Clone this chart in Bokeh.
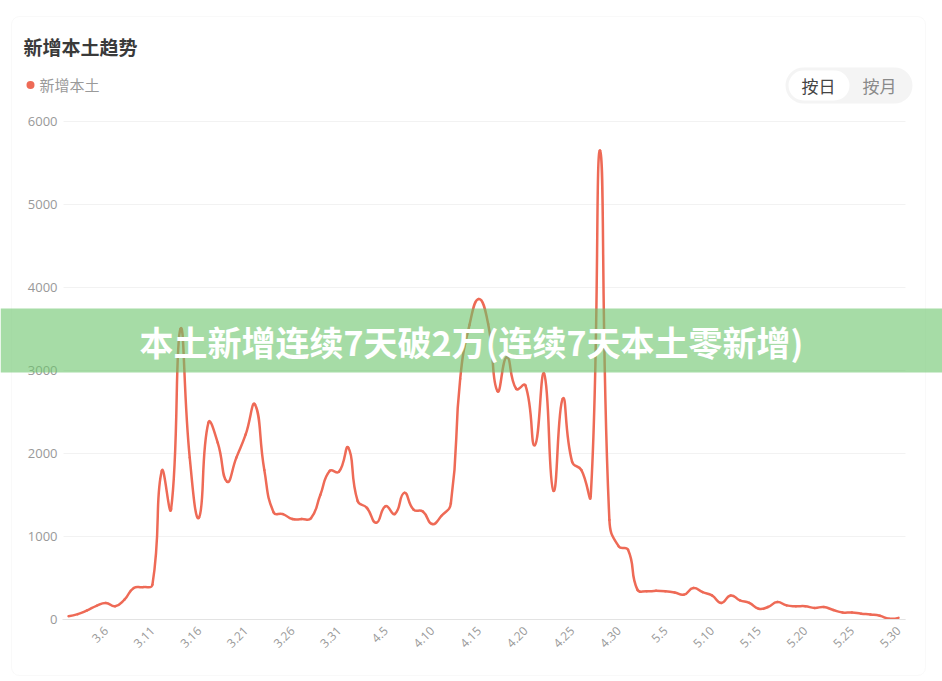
import math
from bokeh.plotting import figure
from bokeh.models import BoxAnnotation, Label, FixedTicker, ColumnDataSource
from bokeh.embed import file_html
from bokeh.resources import INLINE

W, H = 942, 681

# ---------------- data ----------------
months = [3, 4, 5]
first_day = {3: 2, 4: 1, 5: 1}
last_day = {3: 31, 4: 30, 5: 30}

march_values = [40, 65, 110, 165, 200, 160, 240, 380, 390, 420,
                1790, 1330, 3500, 1950, 1230, 2370, 2130, 1660, 1950, 2230,
                2590, 1800, 1290, 1270, 1210, 1210, 1220, 1500, 1790, 1780]
april_values = [2070, 1430, 1345, 1165, 1365, 1272, 1526, 1325, 1300, 1150,
                1250, 1400, 2900, 3550, 3860, 3560, 2750, 3160, 2780, 2820,
                2100, 2960, 1550, 2660, 1900, 1800, 1490, 5650, 1200, 880]
may_values = [840, 360, 340, 345, 340, 325, 300, 380, 330, 290,
              200, 290, 230, 200, 130, 150, 210, 170, 160, 160,
              140, 150, 115, 85, 85, 70, 60, 45, 10, 20]

tick_labels = ["3.6", "3.11", "3.16", "3.21", "3.26", "3.31", "4.5", "4.10", "4.15",
               "4.20", "4.25", "4.30", "5.5", "5.10", "5.15", "5.20", "5.25", "5.30"]
y_ticks = [0, 1000, 2000, 3000, 4000, 5000, 6000]

values = march_values + april_values + may_values
dates = [f"{m}.{d}" for m in months for d in range(first_day[m], last_day[m] + 1)]
xs = list(range(len(values)))
tick_pos = [dates.index(t) for t in tick_labels]

# ---------------- layout constants (canvas pixels) ----------------
X0_PX, XN_PX = 68, 898          # first / last data point
Y0_PX, Y6000_PX = 619, 121      # value 0 / value 6000
GRID_L, GRID_R = 63, 905
KX = (XN_PX - X0_PX) / (len(values) - 1)
KY = (Y0_PX - Y6000_PX) / 6000.0


def xd(pxl):  # canvas px -> data x
    return (pxl - X0_PX) / KX


x_range = (xd(0), xd(W))
y_range = (-(H - Y0_PX) / KY, Y0_PX / KY)

LINE_COLOR = "#ee6a56"

# ---------------- smooth (echarts-like) bezier segments ----------------
px = [x * KX for x in xs]
py = [v * KY for v in values]
smooth = 0.5
n = len(px)
seg = dict(x0=[], y0=[], x1=[], y1=[], cx0=[], cy0=[], cx1=[], cy1=[])
cpx0, cpy0 = px[0], py[0]
for i in range(1, n):
    x, y = px[i], py[i]
    prevx, prevy = px[i - 1], py[i - 1]
    if i == n - 1:
        ncx, ncy = x, y
        vx = vy = 0.0
        ratio = 0.5
    else:
        nx, ny = px[i + 1], py[i + 1]
        vx, vy = nx - prevx, ny - prevy
        l0 = math.hypot(x - prevx, y - prevy)
        l1 = math.hypot(nx - x, ny - y)
        ratio = l1 / (l0 + l1)
        ncx = x - vx * smooth * (1 - ratio)
        ncy = y - vy * smooth * (1 - ratio)
    seg["x0"].append(prevx / KX); seg["y0"].append(prevy / KY)
    seg["x1"].append(x / KX); seg["y1"].append(y / KY)
    seg["cx0"].append(cpx0 / KX); seg["cy0"].append(cpy0 / KY)
    seg["cx1"].append(ncx / KX); seg["cy1"].append(ncy / KY)
    cpx0 = x + vx * smooth * ratio
    cpy0 = y + vy * smooth * ratio

# ---------------- figure (frame = whole canvas) ----------------
p = figure(width=W, height=H, x_range=x_range, y_range=y_range,
           output_backend="svg", toolbar_location=None, title=None,
           min_border=0)
p.outline_line_color = None
p.background_fill_color = "white"
p.border_fill_color = "white"

CU = dict(left_units="canvas", right_units="canvas", top_units="canvas", bottom_units="canvas")

card = BoxAnnotation(left=11, right=925, top=16, bottom=675, **CU,
                     fill_alpha=0, line_color="#ebebeb", line_width=1,
                     border_radius=8, level="underlay")
p.add_layout(card)

p.bezier(x0="x0", y0="y0", x1="x1", y1="y1", cx0="cx0", cy0="cy0", cx1="cx1", cy1="cy1",
         source=ColumnDataSource(seg), line_color=LINE_COLOR, line_width=2.5, line_cap="round")

# axes (fixed inside the frame)
p.yaxis.fixed_location = xd(GRID_L)
p.yaxis.ticker = FixedTicker(ticks=y_ticks)
p.yaxis.axis_line_color = None
p.yaxis.major_tick_line_color = None
p.yaxis.minor_tick_line_color = None
p.yaxis.major_tick_out = 0
p.yaxis.major_tick_in = 0
p.yaxis.major_label_text_color = "#999999"
p.yaxis.major_label_text_font = "Open Sans"
p.yaxis.major_label_text_font_size = "13px"
p.yaxis.major_label_standoff = 6

p.xaxis.fixed_location = 0
p.xaxis.bounds = (xd(GRID_L - 1), xd(GRID_R))
p.xaxis.ticker = FixedTicker(ticks=tick_pos)
p.xaxis.major_label_overrides = {tp: lab for tp, lab in zip(tick_pos, tick_labels)}
p.xaxis.major_label_orientation = math.pi / 4
p.xaxis.axis_line_color = "#e3e3e3"
p.xaxis.major_tick_line_color = None
p.xaxis.minor_tick_line_color = None
p.xaxis.major_tick_out = 0
p.xaxis.major_tick_in = 0
p.xaxis.major_label_text_color = "#999999"
p.xaxis.major_label_text_font = "Open Sans"
p.xaxis.major_label_text_font_size = "12px"
p.xaxis.major_label_standoff = 9

p.xgrid.visible = False
p.ygrid.grid_line_color = "#f2f2f2"
p.ygrid.cross_bounds = (xd(GRID_L), xd(GRID_R))


def canvas_label(text, x, y, **kw):
    lab = Label(x=x, y=y, x_units="canvas", y_units="canvas", text=text,
                text_baseline="middle", **kw)
    p.add_layout(lab)
    return lab


# title + legend
canvas_label("新增本土趋势", 23, 45.5, text_font="Noto Sans CJK SC", text_font_style="bold",
             text_font_size="19px", text_color="#3a3a3a")
dot = BoxAnnotation(left=26, right=34, top=80.5, bottom=88.5, **CU,
                    fill_color=LINE_COLOR, fill_alpha=1, line_color=None, border_radius=4)
p.add_layout(dot)
canvas_label("新增本土", 39, 84, text_font="Noto Sans CJK SC", text_font_size="15px",
             text_color="#9a9a9a")

# toggle
pill = BoxAnnotation(left=785, right=912, top=67, bottom=103, **CU,
                     fill_color="#f4f4f4", fill_alpha=1, line_color=None, border_radius=18)
p.add_layout(pill)
pill_on = BoxAnnotation(left=788, right=849, top=70, bottom=100, **CU,
                        fill_color="white", fill_alpha=1, line_color=None, border_radius=15)
p.add_layout(pill_on)
canvas_label("按日", 818, 85, text_align="center", text_font="Noto Sans CJK SC",
             text_font_size="17px", text_color="#444444")
canvas_label("按月", 879, 85, text_align="center", text_font="Noto Sans CJK SC",
             text_font_size="17px", text_color="#8a8a8a")

# banner
banner = BoxAnnotation(left=0, right=W, top=308, bottom=372, **CU,
                       fill_color="#6bc56b", fill_alpha=0.6, line_color=None, level="overlay")
p.add_layout(banner)
banner_text = Label(x=471, y=341, x_units="canvas", y_units="canvas",
                    text="本土新增连续7天破2万(连续7天本土零新增)",
                    text_align="center", text_baseline="middle",
                    text_font="Noto Sans CJK SC", text_font_style="bold",
                    text_font_size="34px", text_color="white", level="overlay")
p.add_layout(banner_text)

open("out.html", "w").write(file_html(p, INLINE))
